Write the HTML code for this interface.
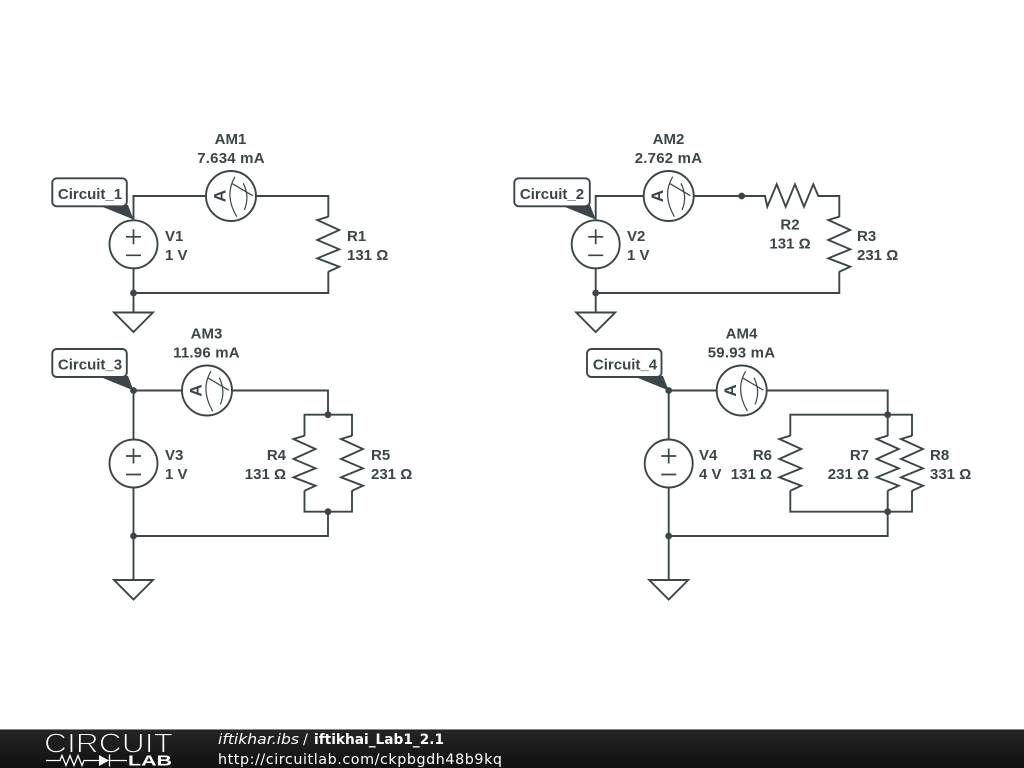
<!DOCTYPE html>
<html><head><meta charset="utf-8"><style>
html,body{margin:0;padding:0;background:#fff;width:1024px;height:768px;overflow:hidden}
svg{display:block}
.t{font:bold 15px "Liberation Sans",sans-serif;fill:#3c4649}
.m{text-anchor:middle}
.v{letter-spacing:.2px}
.w{fill:none;stroke:#3c4649;stroke-width:1.9;stroke-linejoin:miter}
.f{font-family:"DejaVu Sans",sans-serif;font-size:14.3px;fill:#fff}
</style></head><body>
<svg width="1024" height="768" viewBox="0 0 1024 768" xmlns="http://www.w3.org/2000/svg">
<defs>
<linearGradient id="g" x1="0" y1="0" x2="0" y2="1"><stop offset="0" stop-color="#262626"/><stop offset="1" stop-color="#101010"/></linearGradient>
<g id="vs"><circle r="24" fill="#fff" stroke="#3c4649" stroke-width="1.9"/><path d="M-7.5,-7.5H7.5M0,-15V0M-7.5,11H7.5" fill="none" stroke="#3c4649" stroke-width="1.7"/></g>
<g id="am"><circle r="25" fill="#fff" stroke="#3c4649" stroke-width="1.9"/>
<path d="M4,-19.3Q-7,-1 5.7,20.7M12.3,-12.7Q19,1 13.3,14M.7,-12.7L21.7,-.3" fill="none" stroke="#3c4649" stroke-width="1.2"/>
<text class="t m" transform="translate(-5.5,0) rotate(-90)" style="font-size:17px">A</text></g>
<path id="r" class="w" d="M0,-27.3L-11,-24L11,-14L-11,-4L11,5.300L-11,14.300L11,22.700L0,27.700"/>
<path id="gnd" class="w" d="M-19.500,0H19.500L0,19.500Z"/>
<circle id="d" r="3.400" fill="#3c4649"/>
</defs>
<rect width="1024" height="768" fill="#fff"/>

<!-- Circuit 1 -->
<path class="w" d="M133.500,220V196H206M256,196H328.300V217M328.300,271.500V293H133.500M133.500,268V312"/>
<use href="#vs" x="133.500" y="244.300"/><use href="#am" x="231" y="196"/><use href="#r" x="328.300" y="244"/>
<use href="#gnd" x="133.500" y="312.500"/><use href="#d" x="133.500" y="293"/>
<path d="M98,205H128L133.500,219.500Z" fill="#3c4649"/>
<rect x="52.300" y="178.300" width="74.500" height="28" rx="4.500" fill="#fff" stroke="#3c4649" stroke-width="1.9"/>
<text class="t m" x="90" y="199">Circuit_1</text>
<text class="t m" x="230.500" y="144">AM1</text><text class="t m v" x="231" y="163">7.634 mA</text>
<text class="t" x="165" y="241">V1</text><text class="t" x="165" y="260">1 V</text>
<text class="t" x="347" y="241">R1</text><text class="t" x="347" y="260">131 Ω</text>

<!-- Circuit 2 -->
<path class="w" d="M595.700,220V196H644M694,196H765L767.300,206.700L776.700,184.300L785.700,206.700L795,184.300L804,206.700L813.300,184.300L818.300,196H839.300V217M839.300,271.500V293H595.700M595.700,268V312"/>
<use href="#vs" x="595.700" y="244.300"/><use href="#am" x="668.700" y="196"/><use href="#r" x="839.300" y="244"/>
<use href="#gnd" x="595.700" y="312.500"/><use href="#d" x="595.700" y="293"/><use href="#d" x="741.700" y="196"/>
<path d="M560,205H590L595.700,219.500Z" fill="#3c4649"/>
<rect x="514.300" y="178.300" width="75.500" height="28" rx="4.500" fill="#fff" stroke="#3c4649" stroke-width="1.9"/>
<text class="t m" x="552" y="199">Circuit_2</text>
<text class="t m" x="668.500" y="144">AM2</text><text class="t m v" x="668.500" y="163">2.762 mA</text>
<text class="t" x="627" y="241">V2</text><text class="t" x="627" y="260">1 V</text>
<text class="t m" x="790" y="229.500">R2</text><text class="t m" x="790" y="248.500">131 Ω</text>
<text class="t" x="857" y="241">R3</text><text class="t" x="857" y="260">231 Ω</text>

<!-- Circuit 3 -->
<path class="w" d="M133.500,390.500V440M133.500,488V580.500M133.500,390.500H182M232,390.500H328V414.700M304.500,436V414.700H352V436M304.500,490.500V511.700H352V490.500M328,511.700V536H133.500"/>
<use href="#vs" x="133.500" y="463.500"/><use href="#am" x="207" y="390.500"/><use href="#r" x="304.500" y="463"/><use href="#r" x="352" y="463"/>
<use href="#gnd" x="133.500" y="580"/><use href="#d" x="133.500" y="390.500"/><use href="#d" x="133.500" y="536"/><use href="#d" x="328" y="414.700"/><use href="#d" x="328" y="511.700"/>
<path d="M98,376H128L133.500,390.500Z" fill="#3c4649"/>
<rect x="52.300" y="349" width="74.500" height="28" rx="4.500" fill="#fff" stroke="#3c4649" stroke-width="1.9"/>
<text class="t m" x="90" y="369.500">Circuit_3</text>
<text class="t m" x="206.500" y="338.500">AM3</text><text class="t m v" x="206.500" y="357.500">11.96 mA</text>
<text class="t" x="165" y="460">V3</text><text class="t" x="165" y="479">1 V</text>
<text class="t" x="286" y="460" text-anchor="end">R4</text><text class="t" x="286" y="479" text-anchor="end">131 Ω</text>
<text class="t" x="371" y="460">R5</text><text class="t" x="371" y="479">231 Ω</text>

<!-- Circuit 4 -->
<path class="w" d="M668.700,390.500V440M668.700,488V580.500M668.700,390.500H717M767,390.500H887.700V436M790.300,436V414.700H912V436M790.300,490.500V511.700H912V490.500M887.700,490.500V536H668.700"/>
<use href="#vs" x="668.700" y="463.500"/><use href="#am" x="741.700" y="390.500"/><use href="#r" x="790.300" y="463"/><use href="#r" x="887.700" y="463"/><use href="#r" x="912" y="463"/>
<use href="#gnd" x="668.700" y="580"/><use href="#d" x="668.700" y="390.500"/><use href="#d" x="668.700" y="536"/><use href="#d" x="887.700" y="414.700"/><use href="#d" x="887.700" y="511.700"/>
<path d="M633,376H663L668.700,390.500Z" fill="#3c4649"/>
<rect x="587" y="349" width="74.500" height="28" rx="4.500" fill="#fff" stroke="#3c4649" stroke-width="1.9"/>
<text class="t m" x="625" y="369.500">Circuit_4</text>
<text class="t m" x="741.500" y="338.500">AM4</text><text class="t m v" x="741.500" y="357.500">59.93 mA</text>
<text class="t" x="699" y="460">V4</text><text class="t" x="699" y="479">4 V</text>
<text class="t" x="772" y="460" text-anchor="end">R6</text><text class="t" x="772" y="479" text-anchor="end">131 Ω</text>
<text class="t" x="869" y="460" text-anchor="end">R7</text><text class="t" x="869" y="479" text-anchor="end">231 Ω</text>
<text class="t" x="930" y="460">R8</text><text class="t" x="930" y="479">331 Ω</text>

<!-- Footer -->
<rect x="0" y="729" width="1024" height="39" fill="url(#g)"/>
<rect x="0" y="729" width="1024" height="1" fill="#888"/>
<text x="44" y="752.500" font-family="Liberation Sans,sans-serif" font-size="28" fill="#fff" stroke="#1e1e1e" stroke-width="1.100" style="paint-order:fill stroke" textLength="129" lengthAdjust="spacingAndGlyphs">CIRCUIT</text>
<path d="M46,760.500H60L62,755.500L66,765.500L70,755.500L74,765.500L78,755.500L82,765.500L84,760.500H99M109,760.500H127M109.500,754.500V766.500" fill="none" stroke="#fff" stroke-width="1.300"/>
<path d="M99,755L109,760.500L99,766Z" fill="#fff"/>
<text x="128" y="765.500" font-family="Liberation Sans,sans-serif" font-weight="bold" font-size="14.500" fill="#fff" textLength="44" lengthAdjust="spacingAndGlyphs">LAB</text>
<text class="f" x="218" y="744" style="font-style:italic" textLength="81" lengthAdjust="spacingAndGlyphs">iftikhar.ibs</text>
<text class="f" x="303" y="744">/</text>
<text class="f" x="314" y="744" style="font-weight:bold" textLength="130" lengthAdjust="spacingAndGlyphs">iftikhai_Lab1_2.1</text>
<text class="f" x="218" y="764" textLength="284">http://circuitlab.com/ckpbgdh48b9kq</text>
</svg>
</body></html>
